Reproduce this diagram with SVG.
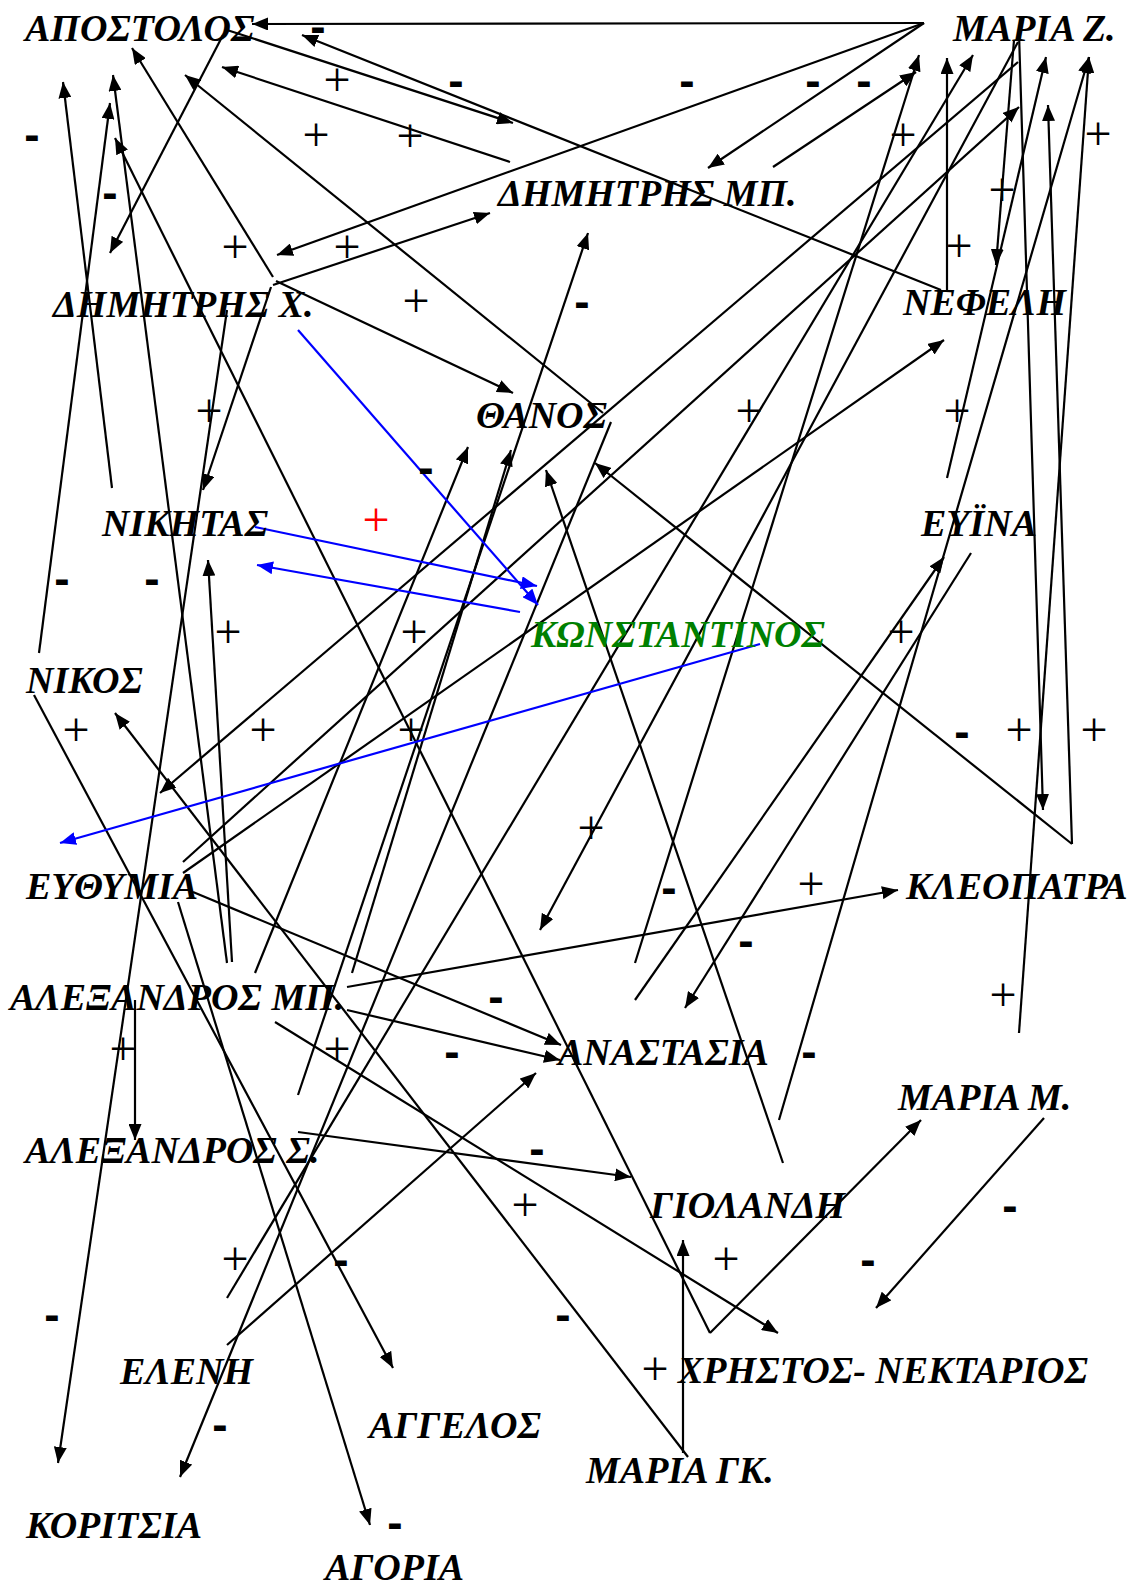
<svg xmlns="http://www.w3.org/2000/svg" width="1134" height="1585" viewBox="0 0 1134 1585">
<defs>
<marker id="ah" markerUnits="userSpaceOnUse" markerWidth="17" markerHeight="13" refX="16" refY="6.5" orient="auto"><path d="M0,0 L16,6.5 L0,13 z" fill="#000"/></marker>
<marker id="ahb" markerUnits="userSpaceOnUse" markerWidth="17" markerHeight="13" refX="16" refY="6.5" orient="auto"><path d="M0,0 L16,6.5 L0,13 z" fill="#0000ff"/></marker>
<style>
.n{font-family:"Liberation Serif","Times New Roman",serif;font-weight:bold;font-style:italic;font-size:38px;fill:#000}
.g{fill:#008000}
.p{font-family:"Liberation Serif",serif;font-size:48px;text-anchor:middle;fill:#000}
.m{font-family:"Liberation Sans",Arial,sans-serif;font-weight:bold;font-size:46px;text-anchor:middle;fill:#000}
.r{fill:#ff0000}
.c line{stroke:#000;stroke-width:2.2;marker-end:url(#ah)}
.c line.b{stroke:#0000ff;marker-end:url(#ahb)}
</style>
</defs>
<rect width="1134" height="1585" fill="#fff"/>
<g id="connectors" class="c">
<line x1="924" y1="23" x2="252" y2="24"/>
<line x1="924" y1="23" x2="277" y2="255"/>
<line x1="924" y1="23" x2="708" y2="168"/>
<line x1="773" y1="167" x2="916" y2="72"/>
<line x1="510" y1="162" x2="222" y2="67"/>
<line x1="227" y1="30" x2="513" y2="123"/>
<line x1="223" y1="35" x2="110" y2="253"/>
<line x1="941" y1="290" x2="302" y2="35"/>
<line x1="947" y1="290" x2="947" y2="58"/>
<line x1="273" y1="277" x2="132" y2="48"/>
<line x1="273" y1="285" x2="490" y2="213"/>
<line x1="276" y1="281" x2="513" y2="393"/>
<line x1="271" y1="287" x2="203" y2="490"/>
<line x1="227" y1="310" x2="58" y2="1463"/>
<line x1="112" y1="488" x2="63" y2="82"/>
<line x1="39" y1="653" x2="110" y2="103"/>
<line x1="227" y1="963" x2="113" y2="75"/>
<line x1="710" y1="1333" x2="115" y2="138"/>
<line x1="710" y1="1333" x2="921" y2="1120"/>
<line x1="603" y1="413" x2="185" y2="75"/>
<line x1="611" y1="422" x2="180" y2="1477"/>
<line x1="298" y1="1095" x2="588" y2="233"/>
<line x1="352" y1="973" x2="511" y2="450"/>
<line x1="255" y1="973" x2="468" y2="447"/>
<line x1="783" y1="1163" x2="546" y2="470"/>
<line x1="1072" y1="844" x2="595" y2="463"/>
<line x1="1072" y1="844" x2="1048" y2="105"/>
<line x1="1019" y1="33" x2="1043" y2="810"/>
<line x1="1019" y1="1033" x2="1089" y2="57"/>
<line x1="779" y1="1120" x2="1089" y2="57"/>
<line x1="947" y1="478" x2="1046" y2="57"/>
<line x1="1014" y1="40" x2="996" y2="265"/>
<line x1="183" y1="862" x2="1019" y2="107"/>
<line x1="183" y1="873" x2="944" y2="340"/>
<line x1="1018" y1="62" x2="160" y2="793"/>
<line x1="1018" y1="42" x2="540" y2="930"/>
<line x1="635" y1="963" x2="919" y2="55"/>
<line x1="635" y1="1000" x2="944" y2="557"/>
<line x1="971" y1="553" x2="685" y2="1008"/>
<line x1="232" y1="962" x2="208" y2="560"/>
<line x1="193" y1="892" x2="561" y2="1045"/>
<line x1="347" y1="1010" x2="560" y2="1060"/>
<line x1="347" y1="987" x2="898" y2="890"/>
<line x1="135" y1="1000" x2="135" y2="1140"/>
<line x1="275" y1="1022" x2="778" y2="1333"/>
<line x1="34" y1="695" x2="393" y2="1368"/>
<line x1="688" y1="1457" x2="115" y2="713"/>
<line x1="178" y1="902" x2="370" y2="1525"/>
<line x1="298" y1="1132" x2="631" y2="1177"/>
<line x1="227" y1="1345" x2="536" y2="1073"/>
<line x1="227" y1="1298" x2="973" y2="55"/>
<line x1="683" y1="1453" x2="683" y2="1240"/>
<line x1="1044" y1="1118" x2="876" y2="1308"/>
<line class="b" x1="255" y1="527" x2="537" y2="586"/>
<line class="b" x1="520" y1="612" x2="257" y2="565"/>
<line class="b" x1="298" y1="330" x2="538" y2="605"/>
<line class="b" x1="760" y1="644" x2="60" y2="843"/>
</g>
<g id="node-apostolos"><text class="n" x="25" y="41">ΑΠΟΣΤΟΛΟΣ</text></g>
<g id="node-maria-z"><text class="n" x="953" y="41">ΜΑΡΙΑ Ζ.</text></g>
<g id="node-dimitris-mp"><text class="n" x="498" y="206">ΔΗΜΗΤΡΗΣ ΜΠ.</text></g>
<g id="node-dimitris-x"><text class="n" x="53" y="317">ΔΗΜΗΤΡΗΣ Χ.</text></g>
<g id="node-nefeli"><text class="n" x="903" y="315">ΝΕΦΕΛΗ</text></g>
<g id="node-thanos"><text class="n" x="476" y="428">ΘΑΝΟΣ</text></g>
<g id="node-nikitas"><text class="n" x="102" y="536">ΝΙΚΗΤΑΣ</text></g>
<g id="node-evina"><text class="n" x="921" y="536">ΕΥΪΝΑ</text></g>
<g id="node-konstantinos"><text class="n g" x="531" y="647">ΚΩΝΣΤΑΝΤΙΝΟΣ</text></g>
<g id="node-nikos"><text class="n" x="26" y="693">ΝΙΚΟΣ</text></g>
<g id="node-efthymia"><text class="n" x="26" y="899">ΕΥΘΥΜΙΑ</text></g>
<g id="node-kleopatra"><text class="n" x="906" y="899">ΚΛΕΟΠΑΤΡΑ</text></g>
<g id="node-alexandros-mp"><text class="n" x="10" y="1010">ΑΛΕΞΑΝΔΡΟΣ ΜΠ.</text></g>
<g id="node-anastasia"><text class="n" x="558" y="1065">ΑΝΑΣΤΑΣΙΑ</text></g>
<g id="node-alexandros-s"><text class="n" x="25" y="1163">ΑΛΕΞΑΝΔΡΟΣ Σ.</text></g>
<g id="node-maria-m"><text class="n" x="898" y="1110">ΜΑΡΙΑ Μ.</text></g>
<g id="node-giolandi"><text class="n" x="650" y="1218">ΓΙΟΛΑΝΔΗ</text></g>
<g id="node-christos-nektarios"><text class="n" x="678" y="1383">ΧΡΗΣΤΟΣ- ΝΕΚΤΑΡΙΟΣ</text></g>
<g id="node-eleni"><text class="n" x="120" y="1384">ΕΛΕΝΗ</text></g>
<g id="node-angelos"><text class="n" x="369" y="1438">ΑΓΓΕΛΟΣ</text></g>
<g id="node-maria-gk"><text class="n" x="586" y="1483">ΜΑΡΙΑ ΓΚ.</text></g>
<g id="node-koritsia"><text class="n" x="26" y="1538">ΚΟΡΙΤΣΙΑ</text></g>
<g id="node-agoria"><text class="n" x="325" y="1580">ΑΓΟΡΙΑ</text></g>
<g id="signs">
<text class="m" x="318" y="42">-</text>
<text class="m" x="456" y="96">-</text>
<text class="m" x="687" y="96">-</text>
<text class="m" x="813" y="96">-</text>
<text class="m" x="864" y="96">-</text>
<text class="m" x="32" y="150">-</text>
<text class="m" x="110" y="208">-</text>
<text class="m" x="582" y="317">-</text>
<text class="m" x="426" y="483">-</text>
<text class="m" x="62" y="594">-</text>
<text class="m" x="152" y="594">-</text>
<text class="m" x="962" y="747">-</text>
<text class="m" x="669" y="903">-</text>
<text class="m" x="746" y="956">-</text>
<text class="m" x="496" y="1012">-</text>
<text class="m" x="452" y="1067">-</text>
<text class="m" x="809" y="1067">-</text>
<text class="m" x="537" y="1164">-</text>
<text class="m" x="1010" y="1221">-</text>
<text class="m" x="341" y="1275">-</text>
<text class="m" x="868" y="1275">-</text>
<text class="m" x="52" y="1330">-</text>
<text class="m" x="563" y="1330">-</text>
<text class="m" x="220" y="1440">-</text>
<text class="m" x="395" y="1538">-</text>
<text class="p" x="337" y="96">+</text>
<text class="p" x="316" y="151">+</text>
<text class="p" x="410" y="152">+</text>
<text class="p" x="903" y="151">+</text>
<text class="p" x="1098" y="150">+</text>
<text class="p" x="1002" y="206">+</text>
<text class="p" x="235" y="263">+</text>
<text class="p" x="347" y="263">+</text>
<text class="p" x="959" y="262">+</text>
<text class="p" x="416" y="317">+</text>
<text class="p" x="209" y="427">+</text>
<text class="p" x="749" y="427">+</text>
<text class="p" x="957" y="427">+</text>
<text class="p r" x="376" y="536">+</text>
<text class="p" x="228" y="648">+</text>
<text class="p" x="414" y="648">+</text>
<text class="p" x="901" y="648">+</text>
<text class="p" x="76" y="746">+</text>
<text class="p" x="263" y="746">+</text>
<text class="p" x="411" y="746">+</text>
<text class="p" x="1019" y="746">+</text>
<text class="p" x="1094" y="746">+</text>
<text class="p" x="591" y="844">+</text>
<text class="p" x="811" y="900">+</text>
<text class="p" x="1003" y="1011">+</text>
<text class="p" x="123" y="1065">+</text>
<text class="p" x="337" y="1065">+</text>
<text class="p" x="525" y="1221">+</text>
<text class="p" x="235" y="1275">+</text>
<text class="p" x="726" y="1275">+</text>
<text class="p" x="655" y="1385">+</text>
</g>
</svg>
